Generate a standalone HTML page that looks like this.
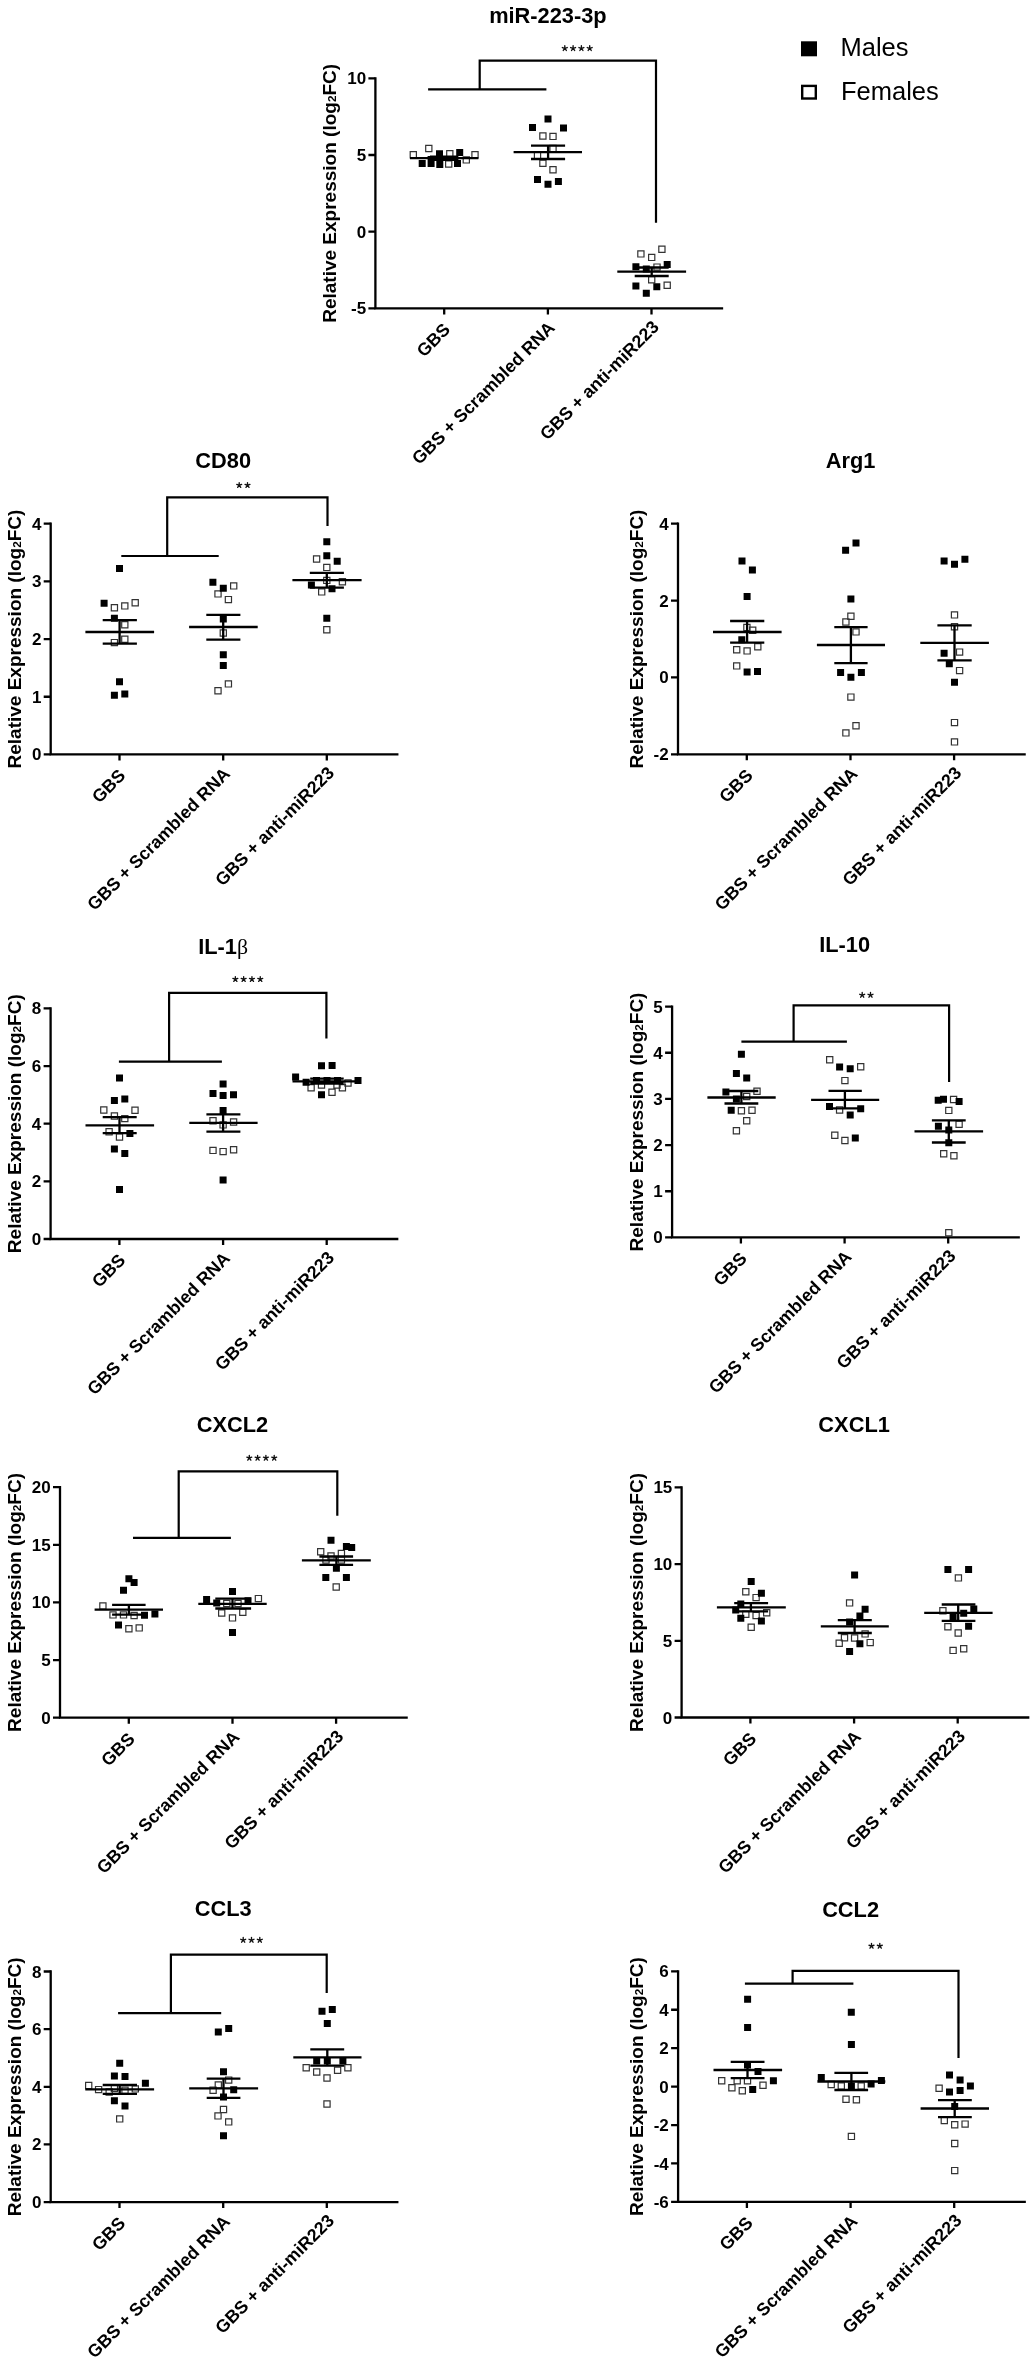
<!DOCTYPE html><html><head><meta charset="utf-8"><title>Figure</title>
<style>html,body{margin:0;padding:0;background:#fff;}svg{display:block;filter:grayscale(1);}text{font-family:"Liberation Sans", sans-serif;}</style></head><body>
<svg width="1035" height="2362" viewBox="0 0 1035 2362">
<rect width="1035" height="2362" fill="#fff"/>
<g><path d="M375.4 78.3V308.4H722" fill="none" stroke="#000" stroke-width="2.3" stroke-linecap="square"/><path d="M368.4 308.4H375.4M368.4 231.7H375.4M368.4 155H375.4M368.4 78.3H375.4M444.2 308.4V314.4M547.9 308.4V314.4M651.5 308.4V314.4" fill="none" stroke="#000" stroke-width="2.3"/><text x="366.1" y="314.44" font-size="17" font-weight="bold" text-anchor="end">-5</text><text x="366.1" y="237.73" font-size="17" font-weight="bold" text-anchor="end">0</text><text x="366.1" y="161.03" font-size="17" font-weight="bold" text-anchor="end">5</text><text x="366.1" y="84.34" font-size="17" font-weight="bold" text-anchor="end">10</text><text transform="translate(336.3 193.35) rotate(-90)" font-size="19" font-weight="bold" text-anchor="middle">Relative Expression (log<tspan font-size="11.78" dy="0">2</tspan>FC)</text><text x="547.9" y="22.8" font-size="21.8" font-weight="bold" text-anchor="middle">miR-223-3p</text><text transform="translate(451.2 330.7) rotate(-45)" font-size="17.8" font-weight="bold" text-anchor="end">GBS</text><text transform="translate(555.9 328.9) rotate(-45)" font-size="17.8" font-weight="bold" text-anchor="end">GBS + Scrambled RNA</text><text transform="translate(660 328.1) rotate(-45)" font-size="17.8" font-weight="bold" text-anchor="end">GBS + anti-miR223</text><path d="M410.2 151.6h6.2v6.2h-6.2zM425.7 145.4h6.2v6.2h-6.2zM445.6 161h6.2v6.2h-6.2zM446.7 150.6h6.2v6.2h-6.2zM463.2 156.8h6.2v6.2h-6.2zM471.9 151.6h6.2v6.2h-6.2zM539.8 132.9h6.2v6.2h-6.2zM549.9 133.3h6.2v6.2h-6.2zM549.9 145.4h6.2v6.2h-6.2zM534.4 152.4h6.2v6.2h-6.2zM539.8 160.1h6.2v6.2h-6.2zM549.9 166.7h6.2v6.2h-6.2zM637.8 250.8h6.2v6.2h-6.2zM648.6 254.3h6.2v6.2h-6.2zM658.8 246.2h6.2v6.2h-6.2zM653.9 264h6.2v6.2h-6.2zM648.6 276.7h6.2v6.2h-6.2zM664.1 282.1h6.2v6.2h-6.2z" fill="none" stroke="#333" stroke-width="1.2"/><path d="M418.7 160.1h7v7h-7zM427.6 160.1h7v7h-7zM427.6 155.9h7v7h-7zM436.3 161h7v7h-7zM436 150.3h7v7h-7zM454 160.1h7v7h-7zM456.2 148.9h7v7h-7zM544.5 115.5h7v7h-7zM529 124h7v7h-7zM560 124.5h7v7h-7zM534 176h7v7h-7zM544.5 180.8h7v7h-7zM554.9 177.9h7v7h-7zM632.4 263.2h7v7h-7zM642.8 265.5h7v7h-7zM663.7 260.9h7v7h-7zM632.4 282.5h7v7h-7zM653.3 283.3h7v7h-7zM642.8 289.8h7v7h-7z" fill="#000"/><path d="M410 158.2H478.4M430 156.6H458.4M430 159.8H458.4M444.2 156.6V159.8M513.6 152.2H582M531 145.7H565.1M531 159H565.1M548.1 145.7V159M617.3 271.7H686.1M634.7 267.5H668.7M634.7 276H668.7M651.7 267.5V276" fill="none" stroke="#000" stroke-width="2.3"/><path d="M428.1 89.4H546.4M479.7 89.4V60.6H656V222.8" fill="none" stroke="#000" stroke-width="2.2"/><path d="M564.8 48.35L564.8 45.75M564.8 48.35L567.27 47.54M564.8 48.35L566.33 50.45M564.8 48.35L563.27 50.45M564.8 48.35L562.33 47.54M573.1 48.35L573.1 45.75M573.1 48.35L575.57 47.54M573.1 48.35L574.63 50.45M573.1 48.35L571.57 50.45M573.1 48.35L570.63 47.54M581.4 48.35L581.4 45.75M581.4 48.35L583.87 47.54M581.4 48.35L582.93 50.45M581.4 48.35L579.87 50.45M581.4 48.35L578.93 47.54M589.7 48.35L589.7 45.75M589.7 48.35L592.17 47.54M589.7 48.35L591.23 50.45M589.7 48.35L588.17 50.45M589.7 48.35L587.23 47.54" fill="none" stroke="#111" stroke-width="1.35" stroke-linecap="round"/></g>
<g><path d="M50.7 523.7V754.4H397.3" fill="none" stroke="#000" stroke-width="2.3" stroke-linecap="square"/><path d="M43.7 754.4H50.7M43.7 696.73H50.7M43.7 639.05H50.7M43.7 581.38H50.7M43.7 523.7H50.7M119.5 754.4V760.4M223.2 754.4V760.4M326.8 754.4V760.4" fill="none" stroke="#000" stroke-width="2.3"/><text x="41.4" y="760.43" font-size="17" font-weight="bold" text-anchor="end">0</text><text x="41.4" y="702.76" font-size="17" font-weight="bold" text-anchor="end">1</text><text x="41.4" y="645.08" font-size="17" font-weight="bold" text-anchor="end">2</text><text x="41.4" y="587.41" font-size="17" font-weight="bold" text-anchor="end">3</text><text x="41.4" y="529.74" font-size="17" font-weight="bold" text-anchor="end">4</text><text transform="translate(21.4 639.05) rotate(-90)" font-size="19" font-weight="bold" text-anchor="middle">Relative Expression (log<tspan font-size="11.78" dy="0">2</tspan>FC)</text><text x="223.2" y="468.2" font-size="21.8" font-weight="bold" text-anchor="middle">CD80</text><text transform="translate(126.5 776.7) rotate(-45)" font-size="17.8" font-weight="bold" text-anchor="end">GBS</text><text transform="translate(231.2 774.9) rotate(-45)" font-size="17.8" font-weight="bold" text-anchor="end">GBS + Scrambled RNA</text><text transform="translate(335.3 774.1) rotate(-45)" font-size="17.8" font-weight="bold" text-anchor="end">GBS + anti-miR223</text><path d="M111.3 604.6h6.2v6.2h-6.2zM121.7 602.8h6.2v6.2h-6.2zM132.1 599.7h6.2v6.2h-6.2zM121.7 621.7h6.2v6.2h-6.2zM121.7 636.2h6.2v6.2h-6.2zM111.3 639.5h6.2v6.2h-6.2zM230.6 582.8h6.2v6.2h-6.2zM214.9 590.8h6.2v6.2h-6.2zM225.3 596.5h6.2v6.2h-6.2zM220.2 629.9h6.2v6.2h-6.2zM225.3 680.8h6.2v6.2h-6.2zM214.9 687.6h6.2v6.2h-6.2zM313.5 555.9h6.2v6.2h-6.2zM323.7 564.3h6.2v6.2h-6.2zM323.7 577.3h6.2v6.2h-6.2zM339.3 578.6h6.2v6.2h-6.2zM318.6 588.8h6.2v6.2h-6.2zM323.7 626.7h6.2v6.2h-6.2z" fill="none" stroke="#333" stroke-width="1.2"/><path d="M116 564.9h7v7h-7zM100.6 599.7h7v7h-7zM110.9 614.8h7v7h-7zM116 678.2h7v7h-7zM110.9 691.7h7v7h-7zM121.3 690.4h7v7h-7zM209.4 578.8h7v7h-7zM219.8 584.8h7v7h-7zM219.8 615.6h7v7h-7zM219.8 651.3h7v7h-7zM219.8 662h7v7h-7zM323.3 538.2h7v7h-7zM323.3 552.2h7v7h-7zM333.7 557.8h7v7h-7zM307.9 581.5h7v7h-7zM328.5 585.2h7v7h-7zM323.3 614.8h7v7h-7z" fill="#000"/><path d="M85.4 632H154.1M102.7 620.2H136.9M102.7 643.7H136.9M119.6 620.2V643.7M189.1 627H257.7M206.3 614.8H240.4M206.3 639.6H240.4M223.2 614.8V639.6M292.4 580.2H361.6M309.8 572.8H343.9M309.8 587.6H343.9M326.8 572.8V587.6" fill="none" stroke="#000" stroke-width="2.3"/><path d="M121.3 556H218.7M167.2 556V497.4H327.5V526" fill="none" stroke="#000" stroke-width="2.2"/><path d="M239.2 485.25L239.2 482.65M239.2 485.25L241.67 484.44M239.2 485.25L240.73 487.35M239.2 485.25L237.67 487.35M239.2 485.25L236.73 484.44M247.5 485.25L247.5 482.65M247.5 485.25L249.97 484.44M247.5 485.25L249.03 487.35M247.5 485.25L245.97 487.35M247.5 485.25L245.03 484.44" fill="none" stroke="#111" stroke-width="1.35" stroke-linecap="round"/></g>
<g><path d="M678 523.7V754.3H1024.6" fill="none" stroke="#000" stroke-width="2.3" stroke-linecap="square"/><path d="M671 754.3H678M671 677.43H678M671 600.57H678M671 523.7H678M746.8 754.3V760.3M850.5 754.3V760.3M954.1 754.3V760.3" fill="none" stroke="#000" stroke-width="2.3"/><text x="668.7" y="760.33" font-size="17" font-weight="bold" text-anchor="end">-2</text><text x="668.7" y="683.47" font-size="17" font-weight="bold" text-anchor="end">0</text><text x="668.7" y="606.6" font-size="17" font-weight="bold" text-anchor="end">2</text><text x="668.7" y="529.74" font-size="17" font-weight="bold" text-anchor="end">4</text><text transform="translate(643 639) rotate(-90)" font-size="19" font-weight="bold" text-anchor="middle">Relative Expression (log<tspan font-size="11.78" dy="0">2</tspan>FC)</text><text x="850.5" y="468.2" font-size="21.8" font-weight="bold" text-anchor="middle">Arg1</text><text transform="translate(753.8 776.6) rotate(-45)" font-size="17.8" font-weight="bold" text-anchor="end">GBS</text><text transform="translate(858.5 774.8) rotate(-45)" font-size="17.8" font-weight="bold" text-anchor="end">GBS + Scrambled RNA</text><text transform="translate(962.6 774) rotate(-45)" font-size="17.8" font-weight="bold" text-anchor="end">GBS + anti-miR223</text><path d="M743.8 624.3h6.2v6.2h-6.2zM749.6 627.2h6.2v6.2h-6.2zM733.6 646.6h6.2v6.2h-6.2zM744 647.8h6.2v6.2h-6.2zM754.7 643.7h6.2v6.2h-6.2zM733.6 662.8h6.2v6.2h-6.2zM847.8 613.2h6.2v6.2h-6.2zM842.8 618.9h6.2v6.2h-6.2zM852.9 628.8h6.2v6.2h-6.2zM847.8 694h6.2v6.2h-6.2zM852.9 722.6h6.2v6.2h-6.2zM842.8 729.8h6.2v6.2h-6.2zM951.4 611.8h6.2v6.2h-6.2zM951.4 623.6h6.2v6.2h-6.2zM956.5 649h6.2v6.2h-6.2zM956.5 667.5h6.2v6.2h-6.2zM951.4 719.5h6.2v6.2h-6.2zM951.4 738.8h6.2v6.2h-6.2z" fill="none" stroke="#333" stroke-width="1.2"/><path d="M738.5 557.5h7v7h-7zM748.9 566.6h7v7h-7zM743.6 593h7v7h-7zM738.3 636.3h7v7h-7zM743.6 668.4h7v7h-7zM754 667.9h7v7h-7zM852.5 539.4h7v7h-7zM842.1 546.8h7v7h-7zM847.4 595.6h7v7h-7zM837.1 669h7v7h-7zM847.4 673.8h7v7h-7zM857.9 669h7v7h-7zM940.6 557.6h7v7h-7zM951 560.8h7v7h-7zM961.4 555.8h7v7h-7zM940.6 649.7h7v7h-7zM945.8 660.2h7v7h-7zM951 678.7h7v7h-7z" fill="#000"/><path d="M713 632H781.6M730.1 621H764.3M730.1 642.7H764.3M747.1 621V642.7M816.9 645H885M834.3 627.1H867.6M834.3 663.1H867.6M850.9 627.1V663.1M920.3 642.9H988.9M937.4 625.3H971.7M937.4 660.3H971.7M954.5 625.3V660.3" fill="none" stroke="#000" stroke-width="2.3"/></g>
<g><path d="M50.6 1008.4V1239H397.2" fill="none" stroke="#000" stroke-width="2.3" stroke-linecap="square"/><path d="M43.6 1239H50.6M43.6 1181.35H50.6M43.6 1123.7H50.6M43.6 1066.05H50.6M43.6 1008.4H50.6M119.4 1239V1245M223.1 1239V1245M326.7 1239V1245" fill="none" stroke="#000" stroke-width="2.3"/><text x="41.3" y="1245.04" font-size="17" font-weight="bold" text-anchor="end">0</text><text x="41.3" y="1187.38" font-size="17" font-weight="bold" text-anchor="end">2</text><text x="41.3" y="1129.74" font-size="17" font-weight="bold" text-anchor="end">4</text><text x="41.3" y="1072.09" font-size="17" font-weight="bold" text-anchor="end">6</text><text x="41.3" y="1014.43" font-size="17" font-weight="bold" text-anchor="end">8</text><text transform="translate(21.4 1123.7) rotate(-90)" font-size="19" font-weight="bold" text-anchor="middle">Relative Expression (log<tspan font-size="11.78" dy="0">2</tspan>FC)</text><text x="223.1" y="953.6" font-size="21.8" font-weight="bold" text-anchor="middle">IL-1<tspan font-family="Liberation Serif" font-weight="normal">β</tspan></text><text transform="translate(126.4 1261.3) rotate(-45)" font-size="17.8" font-weight="bold" text-anchor="end">GBS</text><text transform="translate(231.1 1259.5) rotate(-45)" font-size="17.8" font-weight="bold" text-anchor="end">GBS + Scrambled RNA</text><text transform="translate(335.2 1258.7) rotate(-45)" font-size="17.8" font-weight="bold" text-anchor="end">GBS + anti-miR223</text><path d="M100.7 1106.9h6.2v6.2h-6.2zM131.9 1107.1h6.2v6.2h-6.2zM111.3 1112.9h6.2v6.2h-6.2zM121.7 1115.5h6.2v6.2h-6.2zM106 1128.6h6.2v6.2h-6.2zM116.4 1133.9h6.2v6.2h-6.2zM209.9 1117.6h6.2v6.2h-6.2zM220 1121.8h6.2v6.2h-6.2zM230.5 1118.9h6.2v6.2h-6.2zM209.9 1147.3h6.2v6.2h-6.2zM220 1148.5h6.2v6.2h-6.2zM230.5 1146.6h6.2v6.2h-6.2zM308 1084.7h6.2v6.2h-6.2zM318.4 1081.9h6.2v6.2h-6.2zM328.9 1089.1h6.2v6.2h-6.2zM339.3 1084.7h6.2v6.2h-6.2zM344.9 1079.9h6.2v6.2h-6.2zM333.9 1081.9h6.2v6.2h-6.2z" fill="none" stroke="#333" stroke-width="1.2"/><path d="M116 1074.4h7v7h-7zM110.9 1097.1h7v7h-7zM121.3 1095.4h7v7h-7zM126.4 1129.9h7v7h-7zM110.9 1145.6h7v7h-7zM121.3 1150h7v7h-7zM116 1186h7v7h-7zM219.6 1080.5h7v7h-7zM209.5 1089.9h7v7h-7zM219.6 1091.9h7v7h-7zM230 1091.3h7v7h-7zM219.6 1106.9h7v7h-7zM219.6 1176.6h7v7h-7zM318 1062.2h7v7h-7zM328.6 1061.9h7v7h-7zM292.1 1073.5h7v7h-7zM354.5 1076.9h7v7h-7zM302.6 1078.7h7v7h-7zM318 1091.3h7v7h-7zM313 1077h7v7h-7zM323.5 1077h7v7h-7zM334 1077h7v7h-7z" fill="#000"/><path d="M85.5 1125.4H154.1M102.7 1117.2H136.7M102.7 1133.1H136.7M119.5 1117.2V1133.1M189.3 1122.9H257.6M206.4 1114.4H240.4M206.4 1131.6H240.4M223.1 1114.4V1131.6M292.5 1081.3H361M310.2 1078.7H343.7M310.2 1083.5H343.7M326.6 1078.7V1083.5" fill="none" stroke="#000" stroke-width="2.3"/><path d="M118.9 1061.7H221.9M169.1 1061.7V992.8H326.4V1038.5" fill="none" stroke="#000" stroke-width="2.2"/><path d="M235.35 979.25L235.35 976.65M235.35 979.25L237.82 978.44M235.35 979.25L236.88 981.35M235.35 979.25L233.82 981.35M235.35 979.25L232.88 978.44M243.65 979.25L243.65 976.65M243.65 979.25L246.12 978.44M243.65 979.25L245.18 981.35M243.65 979.25L242.12 981.35M243.65 979.25L241.18 978.44M251.95 979.25L251.95 976.65M251.95 979.25L254.42 978.44M251.95 979.25L253.48 981.35M251.95 979.25L250.42 981.35M251.95 979.25L249.48 978.44M260.25 979.25L260.25 976.65M260.25 979.25L262.72 978.44M260.25 979.25L261.78 981.35M260.25 979.25L258.72 981.35M260.25 979.25L257.78 978.44" fill="none" stroke="#111" stroke-width="1.35" stroke-linecap="round"/></g>
<g><path d="M672.1 1006.6V1237.4H1018.7" fill="none" stroke="#000" stroke-width="2.3" stroke-linecap="square"/><path d="M665.1 1237.4H672.1M665.1 1191.24H672.1M665.1 1145.08H672.1M665.1 1098.92H672.1M665.1 1052.76H672.1M665.1 1006.6H672.1M740.9 1237.4V1243.4M844.6 1237.4V1243.4M948.2 1237.4V1243.4" fill="none" stroke="#000" stroke-width="2.3"/><text x="662.8" y="1243.44" font-size="17" font-weight="bold" text-anchor="end">0</text><text x="662.8" y="1197.28" font-size="17" font-weight="bold" text-anchor="end">1</text><text x="662.8" y="1151.12" font-size="17" font-weight="bold" text-anchor="end">2</text><text x="662.8" y="1104.96" font-size="17" font-weight="bold" text-anchor="end">3</text><text x="662.8" y="1058.8" font-size="17" font-weight="bold" text-anchor="end">4</text><text x="662.8" y="1012.63" font-size="17" font-weight="bold" text-anchor="end">5</text><text transform="translate(643 1122) rotate(-90)" font-size="19" font-weight="bold" text-anchor="middle">Relative Expression (log<tspan font-size="11.78" dy="0">2</tspan>FC)</text><text x="844.6" y="952" font-size="21.8" font-weight="bold" text-anchor="middle">IL-10</text><text transform="translate(747.9 1259.7) rotate(-45)" font-size="17.8" font-weight="bold" text-anchor="end">GBS</text><text transform="translate(852.6 1257.9) rotate(-45)" font-size="17.8" font-weight="bold" text-anchor="end">GBS + Scrambled RNA</text><text transform="translate(956.7 1257.1) rotate(-45)" font-size="17.8" font-weight="bold" text-anchor="end">GBS + anti-miR223</text><path d="M753.9 1088.1h6.2v6.2h-6.2zM743.6 1093.4h6.2v6.2h-6.2zM738.3 1107.6h6.2v6.2h-6.2zM748.9 1107.2h6.2v6.2h-6.2zM743.6 1117.6h6.2v6.2h-6.2zM733.3 1127.7h6.2v6.2h-6.2zM826.6 1056.7h6.2v6.2h-6.2zM857.6 1063.7h6.2v6.2h-6.2zM841.8 1077.5h6.2v6.2h-6.2zM836.5 1106.9h6.2v6.2h-6.2zM831.7 1132.1h6.2v6.2h-6.2zM841.8 1137.4h6.2v6.2h-6.2zM950.5 1096.4h6.2v6.2h-6.2zM945.7 1107.3h6.2v6.2h-6.2zM956 1121.2h6.2v6.2h-6.2zM940.6 1150.6h6.2v6.2h-6.2zM950.8 1152.6h6.2v6.2h-6.2zM945.7 1229.7h6.2v6.2h-6.2z" fill="none" stroke="#333" stroke-width="1.2"/><path d="M737.9 1050.8h7v7h-7zM732.9 1070.1h7v7h-7zM743.2 1074.5h7v7h-7zM722.4 1088.5h7v7h-7zM732.9 1095.6h7v7h-7zM727.7 1106.8h7v7h-7zM836.1 1063.4h7v7h-7zM846.7 1065.2h7v7h-7zM826 1103h7v7h-7zM857.2 1105.3h7v7h-7zM846.7 1111.4h7v7h-7zM851.8 1134.6h7v7h-7zM934.7 1096.7h7v7h-7zM940 1095.8h7v7h-7zM955.6 1097.9h7v7h-7zM934.9 1122.8h7v7h-7zM945.3 1126.4h7v7h-7zM945.3 1139.2h7v7h-7z" fill="#000"/><path d="M707.4 1097.5H775.7M724.5 1091H758.3M724.5 1103.5H758.3M741.4 1091V1103.5M811.1 1099.9H879.2M828.5 1090.9H861.8M828.5 1108.4H861.8M844.9 1090.9V1108.4M914.5 1131.4H983.1M931.9 1120.4H965.7M931.9 1142.5H965.7M948.8 1120.4V1142.5" fill="none" stroke="#000" stroke-width="2.3"/><path d="M741.4 1041.6H846.9M793.6 1041.6V1005.4H949.1V1082.1" fill="none" stroke="#000" stroke-width="2.2"/><path d="M862.2 995.1L862.2 992.5M862.2 995.1L864.67 994.29M862.2 995.1L863.73 997.2M862.2 995.1L860.67 997.2M862.2 995.1L859.73 994.29M870.5 995.1L870.5 992.5M870.5 995.1L872.97 994.29M870.5 995.1L872.03 997.2M870.5 995.1L868.97 997.2M870.5 995.1L868.03 994.29" fill="none" stroke="#111" stroke-width="1.35" stroke-linecap="round"/></g>
<g><path d="M60 1487.2V1717.7H406.6" fill="none" stroke="#000" stroke-width="2.3" stroke-linecap="square"/><path d="M53 1717.7H60M53 1660.08H60M53 1602.45H60M53 1544.83H60M53 1487.2H60M128.8 1717.7V1723.7M232.5 1717.7V1723.7M336.1 1717.7V1723.7" fill="none" stroke="#000" stroke-width="2.3"/><text x="50.7" y="1723.74" font-size="17" font-weight="bold" text-anchor="end">0</text><text x="50.7" y="1666.11" font-size="17" font-weight="bold" text-anchor="end">5</text><text x="50.7" y="1608.49" font-size="17" font-weight="bold" text-anchor="end">10</text><text x="50.7" y="1550.86" font-size="17" font-weight="bold" text-anchor="end">15</text><text x="50.7" y="1493.24" font-size="17" font-weight="bold" text-anchor="end">20</text><text transform="translate(21.4 1602.45) rotate(-90)" font-size="19" font-weight="bold" text-anchor="middle">Relative Expression (log<tspan font-size="11.78" dy="0">2</tspan>FC)</text><text x="232.5" y="1431.7" font-size="21.8" font-weight="bold" text-anchor="middle">CXCL2</text><text transform="translate(135.8 1740) rotate(-45)" font-size="17.8" font-weight="bold" text-anchor="end">GBS</text><text transform="translate(240.5 1738.2) rotate(-45)" font-size="17.8" font-weight="bold" text-anchor="end">GBS + Scrambled RNA</text><text transform="translate(344.6 1737.4) rotate(-45)" font-size="17.8" font-weight="bold" text-anchor="end">GBS + anti-miR223</text><path d="M99.8 1602.8h6.2v6.2h-6.2zM109.9 1611.8h6.2v6.2h-6.2zM120.4 1611.8h6.2v6.2h-6.2zM131 1612.4h6.2v6.2h-6.2zM125.8 1625.6h6.2v6.2h-6.2zM136.1 1624.8h6.2v6.2h-6.2zM255.3 1595.5h6.2v6.2h-6.2zM223.7 1600.4h6.2v6.2h-6.2zM234.9 1600.4h6.2v6.2h-6.2zM218.6 1609.9h6.2v6.2h-6.2zM239.7 1609.1h6.2v6.2h-6.2zM229.4 1614.8h6.2v6.2h-6.2zM317.6 1548.6h6.2v6.2h-6.2zM327.9 1552.9h6.2v6.2h-6.2zM338.3 1550.4h6.2v6.2h-6.2zM322.9 1556.9h6.2v6.2h-6.2zM338.3 1556.9h6.2v6.2h-6.2zM333.1 1583.9h6.2v6.2h-6.2z" fill="none" stroke="#333" stroke-width="1.2"/><path d="M125.4 1575.3h7v7h-7zM130.6 1579h7v7h-7zM120 1586.8h7v7h-7zM141 1611.8h7v7h-7zM151.4 1610.5h7v7h-7zM115 1621.5h7v7h-7zM229 1588.1h7v7h-7zM203.1 1596.1h7v7h-7zM213.2 1599.5h7v7h-7zM244.5 1597.2h7v7h-7zM229 1628.9h7v7h-7zM327.5 1536.7h7v7h-7zM342.9 1543.1h7v7h-7zM348.2 1543.9h7v7h-7zM332.9 1564.7h7v7h-7zM322.3 1573.9h7v7h-7zM342.9 1574.1h7v7h-7z" fill="#000"/><path d="M94.6 1609.6H163M112.1 1604.8H145.6M112.1 1614.6H145.6M128.9 1604.8V1614.6M198.3 1603.8H266.7M215.3 1598.6H251.1M215.3 1608.5H251.1M232.5 1598.6V1608.5M301.9 1560.4H370.8M319.4 1556.5H353.1M319.4 1564.8H353.1M336.4 1556.5V1564.8" fill="none" stroke="#000" stroke-width="2.3"/><path d="M133 1537.8H230.9M178.7 1537.8V1471.3H337.3V1515.7" fill="none" stroke="#000" stroke-width="2.2"/><path d="M249.3 1458L249.3 1455.4M249.3 1458L251.77 1457.19M249.3 1458L250.83 1460.1M249.3 1458L247.77 1460.1M249.3 1458L246.83 1457.19M257.6 1458L257.6 1455.4M257.6 1458L260.07 1457.19M257.6 1458L259.13 1460.1M257.6 1458L256.07 1460.1M257.6 1458L255.13 1457.19M265.9 1458L265.9 1455.4M265.9 1458L268.37 1457.19M265.9 1458L267.43 1460.1M265.9 1458L264.37 1460.1M265.9 1458L263.43 1457.19M274.2 1458L274.2 1455.4M274.2 1458L276.67 1457.19M274.2 1458L275.73 1460.1M274.2 1458L272.67 1460.1M274.2 1458L271.73 1457.19" fill="none" stroke="#111" stroke-width="1.35" stroke-linecap="round"/></g>
<g><path d="M681.6 1487.4V1717.5H1028.2" fill="none" stroke="#000" stroke-width="2.3" stroke-linecap="square"/><path d="M674.6 1717.5H681.6M674.6 1640.8H681.6M674.6 1564.1H681.6M674.6 1487.4H681.6M750.4 1717.5V1723.5M854.1 1717.5V1723.5M957.7 1717.5V1723.5" fill="none" stroke="#000" stroke-width="2.3"/><text x="672.3" y="1723.54" font-size="17" font-weight="bold" text-anchor="end">0</text><text x="672.3" y="1646.84" font-size="17" font-weight="bold" text-anchor="end">5</text><text x="672.3" y="1570.14" font-size="17" font-weight="bold" text-anchor="end">10</text><text x="672.3" y="1493.44" font-size="17" font-weight="bold" text-anchor="end">15</text><text transform="translate(643 1602.45) rotate(-90)" font-size="19" font-weight="bold" text-anchor="middle">Relative Expression (log<tspan font-size="11.78" dy="0">2</tspan>FC)</text><text x="854.1" y="1431.9" font-size="21.8" font-weight="bold" text-anchor="middle">CXCL1</text><text transform="translate(757.4 1739.8) rotate(-45)" font-size="17.8" font-weight="bold" text-anchor="end">GBS</text><text transform="translate(862.1 1738) rotate(-45)" font-size="17.8" font-weight="bold" text-anchor="end">GBS + Scrambled RNA</text><text transform="translate(966.2 1737.2) rotate(-45)" font-size="17.8" font-weight="bold" text-anchor="end">GBS + anti-miR223</text><path d="M742.7 1588.6h6.2v6.2h-6.2zM753 1594.5h6.2v6.2h-6.2zM742.7 1611.1h6.2v6.2h-6.2zM753 1612.4h6.2v6.2h-6.2zM763.6 1609.7h6.2v6.2h-6.2zM748.1 1624.1h6.2v6.2h-6.2zM846.5 1599.8h6.2v6.2h-6.2zM862 1630.8h6.2v6.2h-6.2zM841.4 1634.7h6.2v6.2h-6.2zM851.5 1634.9h6.2v6.2h-6.2zM836.1 1640.2h6.2v6.2h-6.2zM867.1 1639.5h6.2v6.2h-6.2zM955.3 1574.8h6.2v6.2h-6.2zM939.8 1607.7h6.2v6.2h-6.2zM944.8 1623.7h6.2v6.2h-6.2zM955.1 1629.9h6.2v6.2h-6.2zM950 1647.3h6.2v6.2h-6.2zM960.6 1645.7h6.2v6.2h-6.2z" fill="none" stroke="#333" stroke-width="1.2"/><path d="M747.7 1577.9h7v7h-7zM757.9 1589.7h7v7h-7zM737.3 1600.4h7v7h-7zM732.2 1606.5h7v7h-7zM737.3 1614.8h7v7h-7zM757.9 1617.5h7v7h-7zM851.1 1571.6h7v7h-7zM861.6 1605.8h7v7h-7zM856.4 1612.5h7v7h-7zM846.1 1618.5h7v7h-7zM856.4 1640.2h7v7h-7zM846.1 1648h7v7h-7zM944.4 1565.9h7v7h-7zM965.1 1565.9h7v7h-7zM970.3 1605.6h7v7h-7zM960.2 1609.7h7v7h-7zM949.6 1613.4h7v7h-7zM965.1 1622.8h7v7h-7z" fill="#000"/><path d="M716.9 1607.3H785.8M734.2 1603.1H768.1M734.2 1611.4H768.1M750.9 1603.1V1611.4M820.8 1626.3H888.8M837.8 1620.1H871.8M837.8 1633H871.8M854.6 1620.1V1633M924.2 1612.8H992.6M941.7 1604.5H975.4M941.7 1620.8H975.4M958.2 1604.5V1620.8" fill="none" stroke="#000" stroke-width="2.3"/></g>
<g><path d="M50.7 1971.5V2202.1H397.3" fill="none" stroke="#000" stroke-width="2.3" stroke-linecap="square"/><path d="M43.7 2202.1H50.7M43.7 2144.45H50.7M43.7 2086.8H50.7M43.7 2029.15H50.7M43.7 1971.5H50.7M119.5 2202.1V2208.1M223.2 2202.1V2208.1M326.8 2202.1V2208.1" fill="none" stroke="#000" stroke-width="2.3"/><text x="41.4" y="2208.13" font-size="17" font-weight="bold" text-anchor="end">0</text><text x="41.4" y="2150.48" font-size="17" font-weight="bold" text-anchor="end">2</text><text x="41.4" y="2092.84" font-size="17" font-weight="bold" text-anchor="end">4</text><text x="41.4" y="2035.19" font-size="17" font-weight="bold" text-anchor="end">6</text><text x="41.4" y="1977.54" font-size="17" font-weight="bold" text-anchor="end">8</text><text transform="translate(21.4 2086.8) rotate(-90)" font-size="19" font-weight="bold" text-anchor="middle">Relative Expression (log<tspan font-size="11.78" dy="0">2</tspan>FC)</text><text x="223.2" y="1916" font-size="21.8" font-weight="bold" text-anchor="middle">CCL3</text><text transform="translate(126.5 2224.4) rotate(-45)" font-size="17.8" font-weight="bold" text-anchor="end">GBS</text><text transform="translate(231.2 2222.6) rotate(-45)" font-size="17.8" font-weight="bold" text-anchor="end">GBS + Scrambled RNA</text><text transform="translate(335.3 2221.8) rotate(-45)" font-size="17.8" font-weight="bold" text-anchor="end">GBS + anti-miR223</text><path d="M85.6 2082.4h6.2v6.2h-6.2zM95.5 2086.5h6.2v6.2h-6.2zM106.1 2088.9h6.2v6.2h-6.2zM111.3 2085.4h6.2v6.2h-6.2zM121.9 2087.2h6.2v6.2h-6.2zM132.2 2085.8h6.2v6.2h-6.2zM116.6 2115.8h6.2v6.2h-6.2zM225.6 2077h6.2v6.2h-6.2zM215.2 2081.9h6.2v6.2h-6.2zM210 2087.1h6.2v6.2h-6.2zM220.4 2106.4h6.2v6.2h-6.2zM214.9 2112.8h6.2v6.2h-6.2zM225.6 2118.8h6.2v6.2h-6.2zM303.1 2064.6h6.2v6.2h-6.2zM313.6 2068.9h6.2v6.2h-6.2zM334.5 2067.1h6.2v6.2h-6.2zM344.8 2064.6h6.2v6.2h-6.2zM323.9 2074.9h6.2v6.2h-6.2zM323.9 2100.9h6.2v6.2h-6.2z" fill="none" stroke="#333" stroke-width="1.2"/><path d="M116.2 2059.7h7v7h-7zM110.9 2072.6h7v7h-7zM121.5 2073h7v7h-7zM141.9 2079.7h7v7h-7zM110.9 2097.3h7v7h-7zM121.5 2102.4h7v7h-7zM214.8 2028.4h7v7h-7zM225.2 2024.9h7v7h-7zM220 2068.2h7v7h-7zM230.2 2086.3h7v7h-7zM220 2093.4h7v7h-7zM220 2132.3h7v7h-7zM318.5 2007.7h7v7h-7zM328.8 2006h7v7h-7zM323.8 2020.1h7v7h-7zM313.2 2057.5h7v7h-7zM323.8 2057.5h7v7h-7zM339.4 2057.5h7v7h-7z" fill="#000"/><path d="M85.3 2089.4H154.1M102.7 2085H137M102.7 2093.8H137M119.7 2085V2093.8M189.2 2088.4H258.1M206.7 2078.6H240.4M206.7 2097.8H240.4M223.5 2078.6V2097.8M293.3 2057.4H361.5M310.3 2049.3H344.2M310.3 2065.6H344.2M327.3 2049.3V2065.6" fill="none" stroke="#000" stroke-width="2.3"/><path d="M118.1 2013.1H221.2M170.9 2013.1V1954.6H326.7V1993" fill="none" stroke="#000" stroke-width="2.2"/><path d="M243.2 1940.1L243.2 1937.5M243.2 1940.1L245.67 1939.29M243.2 1940.1L244.73 1942.2M243.2 1940.1L241.67 1942.2M243.2 1940.1L240.73 1939.29M251.5 1940.1L251.5 1937.5M251.5 1940.1L253.97 1939.29M251.5 1940.1L253.03 1942.2M251.5 1940.1L249.97 1942.2M251.5 1940.1L249.03 1939.29M259.8 1940.1L259.8 1937.5M259.8 1940.1L262.27 1939.29M259.8 1940.1L261.33 1942.2M259.8 1940.1L258.27 1942.2M259.8 1940.1L257.33 1939.29" fill="none" stroke="#111" stroke-width="1.35" stroke-linecap="round"/></g>
<g><path d="M678.1 1971.3V2201.9H1024.7" fill="none" stroke="#000" stroke-width="2.3" stroke-linecap="square"/><path d="M671.1 2201.9H678.1M671.1 2163.47H678.1M671.1 2125.03H678.1M671.1 2086.6H678.1M671.1 2048.17H678.1M671.1 2009.73H678.1M671.1 1971.3H678.1M746.9 2201.9V2207.9M850.6 2201.9V2207.9M954.2 2201.9V2207.9" fill="none" stroke="#000" stroke-width="2.3"/><text x="668.8" y="2207.93" font-size="17" font-weight="bold" text-anchor="end">-6</text><text x="668.8" y="2169.5" font-size="17" font-weight="bold" text-anchor="end">-4</text><text x="668.8" y="2131.07" font-size="17" font-weight="bold" text-anchor="end">-2</text><text x="668.8" y="2092.63" font-size="17" font-weight="bold" text-anchor="end">0</text><text x="668.8" y="2054.2" font-size="17" font-weight="bold" text-anchor="end">2</text><text x="668.8" y="2015.77" font-size="17" font-weight="bold" text-anchor="end">4</text><text x="668.8" y="1977.34" font-size="17" font-weight="bold" text-anchor="end">6</text><text transform="translate(643 2086.6) rotate(-90)" font-size="19" font-weight="bold" text-anchor="middle">Relative Expression (log<tspan font-size="11.78" dy="0">2</tspan>FC)</text><text x="850.6" y="1916.5" font-size="21.8" font-weight="bold" text-anchor="middle">CCL2</text><text transform="translate(753.9 2224.2) rotate(-45)" font-size="17.8" font-weight="bold" text-anchor="end">GBS</text><text transform="translate(858.6 2222.4) rotate(-45)" font-size="17.8" font-weight="bold" text-anchor="end">GBS + Scrambled RNA</text><text transform="translate(962.7 2221.6) rotate(-45)" font-size="17.8" font-weight="bold" text-anchor="end">GBS + anti-miR223</text><path d="M718.6 2077.6h6.2v6.2h-6.2zM734.1 2077.6h6.2v6.2h-6.2zM744.4 2077.6h6.2v6.2h-6.2zM728.8 2084.6h6.2v6.2h-6.2zM739.2 2087.7h6.2v6.2h-6.2zM759.9 2082.1h6.2v6.2h-6.2zM828.1 2081.4h6.2v6.2h-6.2zM838.2 2082.8h6.2v6.2h-6.2zM858.1 2082.8h6.2v6.2h-6.2zM842.9 2096.1h6.2v6.2h-6.2zM853.3 2096.7h6.2v6.2h-6.2zM848.3 2133.3h6.2v6.2h-6.2zM936 2085.2h6.2v6.2h-6.2zM941.2 2117.5h6.2v6.2h-6.2zM951.6 2121.6h6.2v6.2h-6.2zM962 2121h6.2v6.2h-6.2zM951.6 2140.4h6.2v6.2h-6.2zM951.6 2167.5h6.2v6.2h-6.2z" fill="none" stroke="#333" stroke-width="1.2"/><path d="M744.1 1995.7h7v7h-7zM744.1 2024.1h7v7h-7zM744 2061.4h7v7h-7zM754.5 2068h7v7h-7zM769.9 2077.2h7v7h-7zM749.2 2085.9h7v7h-7zM847.8 2008.8h7v7h-7zM847.9 2041.1h7v7h-7zM817.8 2073.9h7v7h-7zM877.9 2076.9h7v7h-7zM847.9 2082.4h7v7h-7zM867.6 2080.4h7v7h-7zM946 2071.6h7v7h-7zM956.6 2076.5h7v7h-7zM966.9 2082.4h7v7h-7zM946 2088.4h7v7h-7zM956.6 2087h7v7h-7zM951.2 2102.9h7v7h-7z" fill="#000"/><path d="M713.5 2070H782.1M730.7 2061.8H764.5M730.7 2078.1H764.5M747.5 2061.8V2078.1M817.4 2081.5H885.3M834.4 2072.8H868.1M834.4 2090H868.1M851.4 2072.8V2090M920.6 2108.5H989M938 2100.2H971.8M938 2117.1H971.8M954.7 2100.2V2117.1" fill="none" stroke="#000" stroke-width="2.3"/><path d="M744.9 1983.7H853.4M792.6 1983.7V1970.8H958.5V2057.9" fill="none" stroke="#000" stroke-width="2.2"/><path d="M871.5 1946.05L871.5 1943.45M871.5 1946.05L873.97 1945.24M871.5 1946.05L873.03 1948.15M871.5 1946.05L869.97 1948.15M871.5 1946.05L869.03 1945.24M879.8 1946.05L879.8 1943.45M879.8 1946.05L882.27 1945.24M879.8 1946.05L881.33 1948.15M879.8 1946.05L878.27 1948.15M879.8 1946.05L877.33 1945.24" fill="none" stroke="#111" stroke-width="1.35" stroke-linecap="round"/></g>
<rect x="801" y="41.3" width="16" height="15" fill="#000"/>
<rect x="802.2" y="85.9" width="13.6" height="12.6" fill="none" stroke="#000" stroke-width="2.4"/>
<text x="840.5" y="56.3" font-size="25.5">Males</text>
<text x="841" y="100.2" font-size="25.5">Females</text>
</svg></body></html>
